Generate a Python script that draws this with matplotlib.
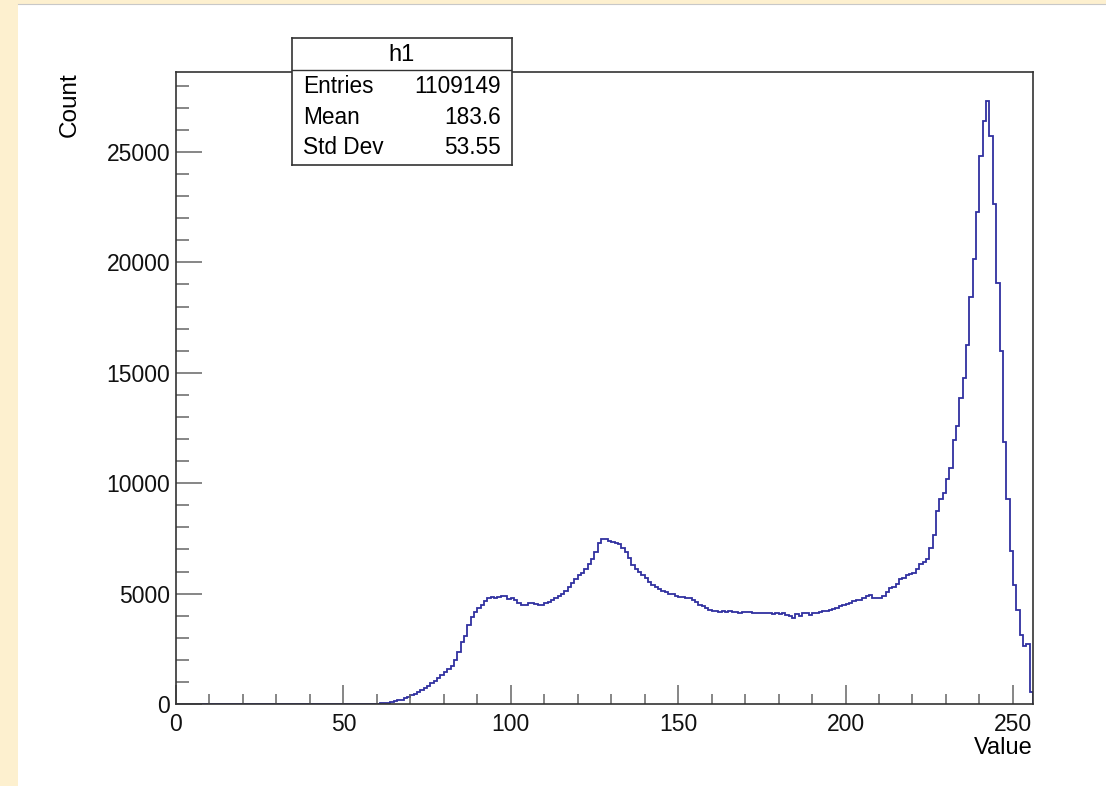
import numpy as np
import matplotlib
matplotlib.use("Agg")
import matplotlib.pyplot as plt
from matplotlib.patches import Rectangle
from matplotlib.lines import Line2D
from matplotlib.ticker import MultipleLocator

plt.rcParams["font.family"] = ["Liberation Sans", "DejaVu Sans"]

# histogram "h1": 256 bins from 0 to 256
bin_edges = np.arange(0, 257)
counts = [
    0, 0, 0, 0, 0, 0, 0, 0, 0, 0, 0, 0, 0, 0, 0, 0, 0, 0, 0, 0,
    0, 0, 0, 0, 0, 0, 0, 0, 0, 0, 0, 0, 0, 0, 0, 0, 0, 0, 0, 0,
    0, 0, 0, 0, 0, 0, 0, 0, 0, 0, 0, 0, 0, 0, 0, 0, 0, 2, 5, 10,
    15, 25, 40, 60, 90, 120, 160, 200, 260, 320, 390, 460, 540, 630, 720, 830,
    950, 1060, 1180, 1320, 1450, 1600, 1700, 1990, 2350, 2800, 3100, 3600, 3950, 4150,
    4350, 4500, 4680, 4780, 4850, 4790, 4830, 4900, 4880, 4760, 4820, 4700, 4560, 4480,
    4500, 4560, 4580, 4520, 4500, 4480, 4560, 4640, 4720, 4780, 4900, 5000, 5100, 5300,
    5500, 5680, 5820, 5950, 6120, 6350, 6580, 6900, 7300, 7460, 7480, 7400, 7350, 7300,
    7240, 7050, 6880, 6600, 6300, 6120, 6000, 5850, 5700, 5520, 5400, 5300, 5220, 5100,
    5050, 5000, 4960, 4900, 4850, 4830, 4790, 4780, 4710, 4600, 4480, 4420, 4330, 4240,
    4220, 4200, 4180, 4200, 4170, 4190, 4160, 4180, 4140, 4170, 4150, 4180, 4130, 4120,
    4140, 4100, 4120, 4110, 4080, 4110, 4090, 4120, 4050, 3990, 3880, 4080, 4000, 4120,
    4100, 4050, 4110, 4130, 4150, 4200, 4190, 4260, 4300, 4350, 4420, 4480, 4510, 4580,
    4650, 4710, 4720, 4800, 4900, 4950, 4800, 4780, 4800, 4900, 5080, 5250, 5320, 5450,
    5650, 5700, 5850, 5900, 5950, 6100, 6350, 6450, 6550, 7050, 7650, 8730, 9270, 9540,
    10170, 10700, 11960, 12590, 13850, 14750, 16270, 18420, 20130, 22280, 24800, 26410,
    27310, 25700, 22640, 19050, 16000, 11870, 9300, 6950, 5400, 4260, 3120, 2630, 2720, 560,
]

hist_name = "h1"
stat_names = ["Entries", "Mean", "Std Dev"]
stat_values = ["1109149", "183.6", "53.55"]

W, H = 1106, 786
fig = plt.figure(figsize=(W / 100, H / 100), dpi=100)
fig.patch.set_facecolor("white")

# beige frame strips around the canvas
beige = "#fdf0cf"
fig.patches.append(Rectangle((0, 0), 18 / W, 1, transform=fig.transFigure,
                             facecolor=beige, edgecolor="none", zorder=0))
fig.patches.append(Rectangle((0, 1 - 3.5 / H), 1, 3.5 / H, transform=fig.transFigure,
                             facecolor=beige, edgecolor="none", zorder=0))
fig.add_artist(Line2D([18 / W, 1], [1 - 4 / H, 1 - 4 / H], transform=fig.transFigure,
                      color="#c8c8c8", lw=0.8))

ax = fig.add_axes([176 / W, 1 - 704 / H, (1033 - 176) / W, (704 - 72) / H])
ax.stairs(counts, bin_edges, color="#3030a0", lw=1.3)
ax.set_xlim(0, 256)
ax.set_ylim(0, 28620)

for s in ax.spines.values():
    s.set_color("#333333")
    s.set_linewidth(1.2)

ax.xaxis.set_major_locator(MultipleLocator(50))
ax.xaxis.set_minor_locator(MultipleLocator(10))
ax.yaxis.set_major_locator(MultipleLocator(5000))
ax.yaxis.set_minor_locator(MultipleLocator(1000))
ax.tick_params(axis="both", which="both", direction="in", top=False, right=False,
               color="#666666", width=1.1, labelsize=16.5, labelcolor="#111111")
ax.tick_params(axis="x", which="major", length=13.7, pad=6.5)
ax.tick_params(axis="x", which="minor", length=7.2)
ax.tick_params(axis="y", which="major", length=18.7, pad=4.3)
ax.tick_params(axis="y", which="minor", length=9.4)

ax.set_xlabel("Value", fontsize=17, loc="right")
ax.xaxis.set_label_coords(1.0, -0.053)
ax.set_ylabel("Count", fontsize=17.5, loc="top")
ax.yaxis.set_label_coords(-0.111, 1.0)

# stats box
sb = fig.add_axes([292 / W, 1 - 165 / H, 220 / W, 127 / H], zorder=5)
sb.set_facecolor("white")
sb.set_xticks([])
sb.set_yticks([])
for s in sb.spines.values():
    s.set_color("#333333")
    s.set_linewidth(1.2)
sep = (165 - 70) / 127
sb.axhline(sep, color="#333333", lw=1.0)
sb.text(0.5, (165 - 55) / 127, hist_name, ha="center", va="center", fontsize=17,
        transform=sb.transAxes)
row_y = [86.5, 117.5, 148]
for name, val, yy in zip(stat_names, stat_values, row_y):
    sb.text(11 / 220, (165 - yy) / 127, name, ha="left", va="center", fontsize=16.3,
            transform=sb.transAxes)
    sb.text(209 / 220, (165 - yy) / 127, val, ha="right", va="center", fontsize=16.3,
            transform=sb.transAxes)

fig.savefig("out.png", dpi=100, facecolor=fig.get_facecolor())
